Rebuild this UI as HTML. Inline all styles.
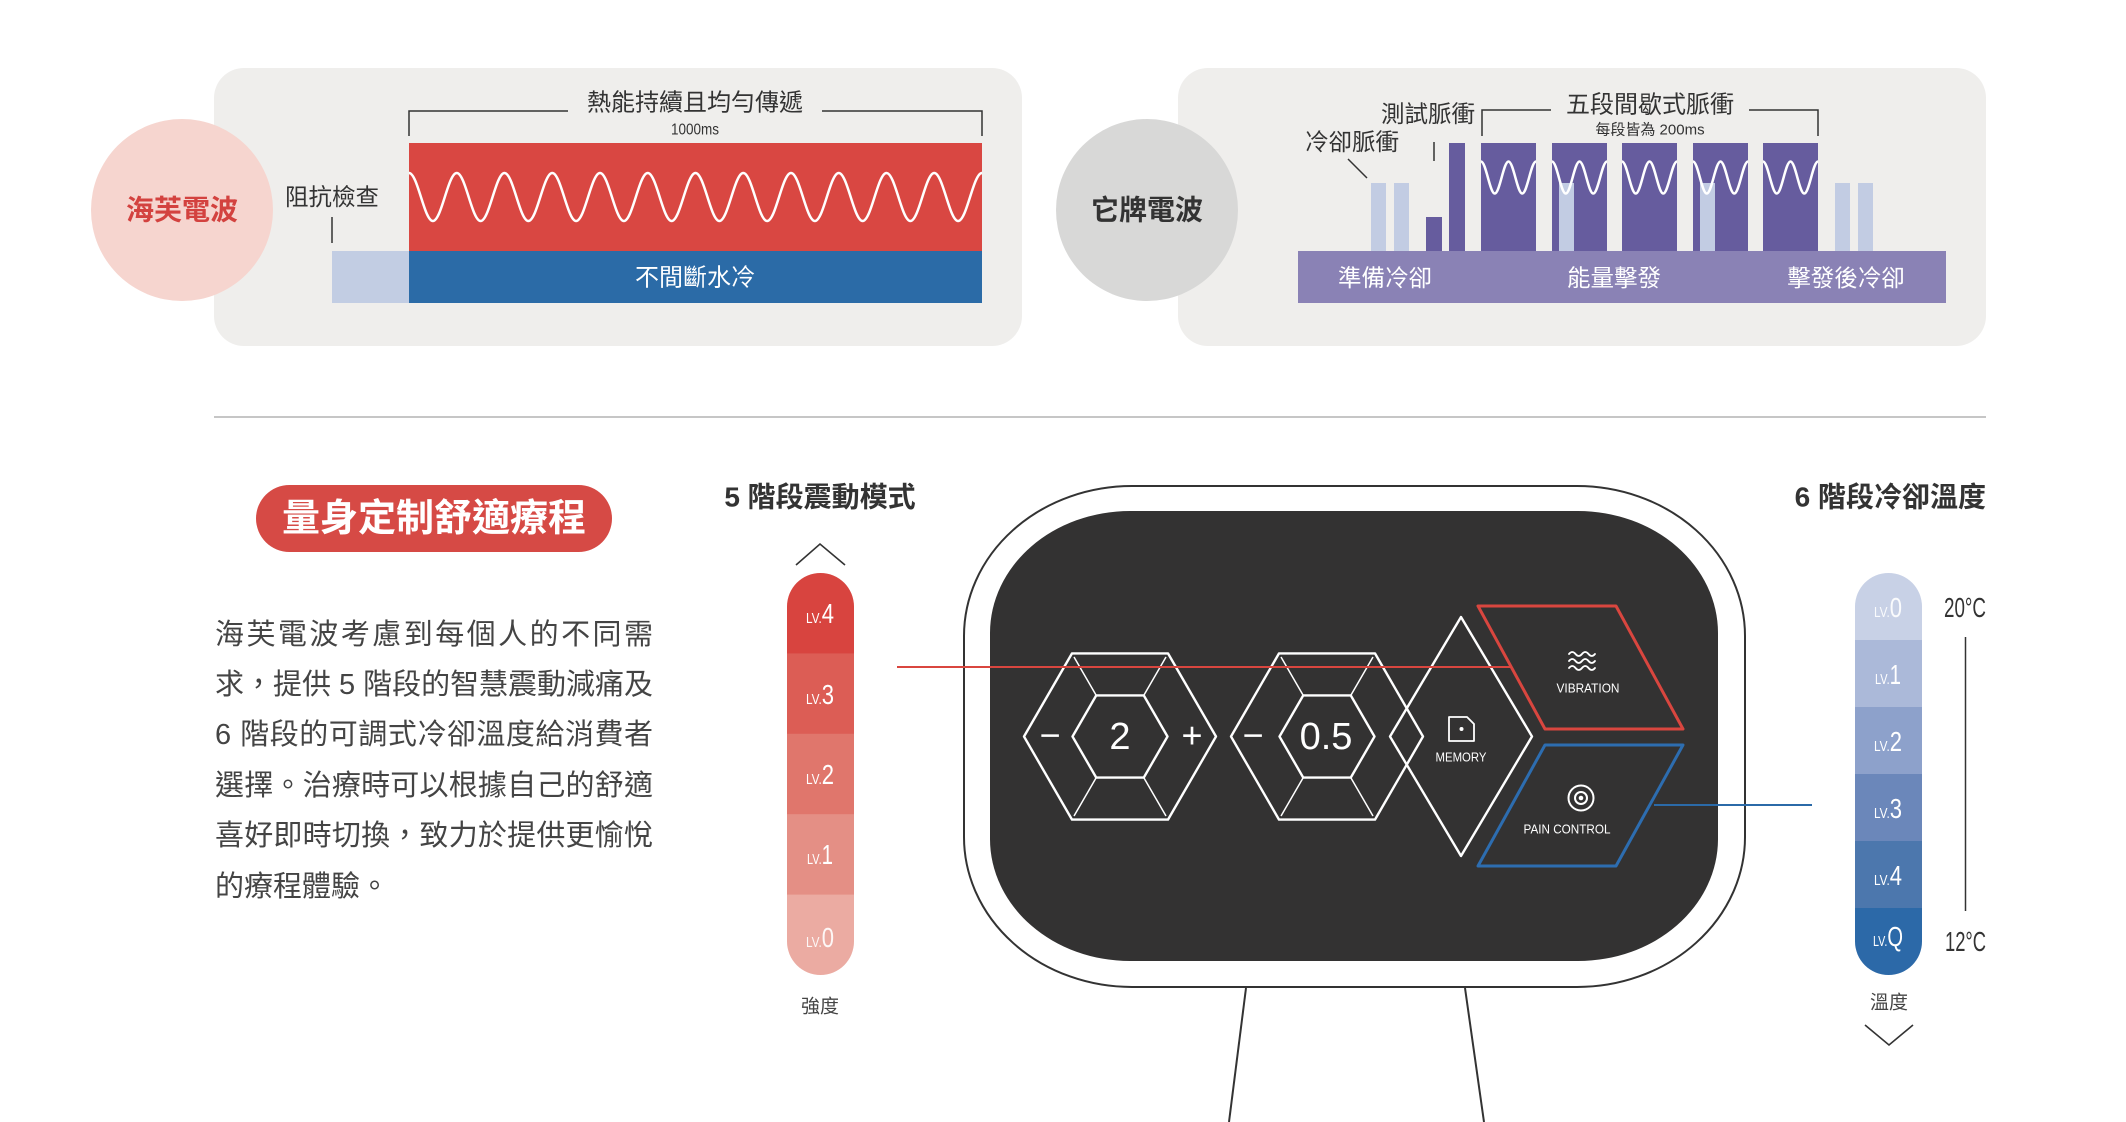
<!DOCTYPE html>
<html>
<head>
<meta charset="utf-8">
<style>
html,body{margin:0;padding:0;background:#fff;}
svg{display:block;}
text{font-family:"Liberation Sans","Noto Sans CJK TC",sans-serif;}
</style>
</head>
<body>
<svg width="2126" height="1122" viewBox="0 0 2126 1122" xmlns="http://www.w3.org/2000/svg">
<rect x="0" y="0" width="2126" height="1122" fill="#ffffff"/>

<!-- ============ TOP LEFT PANEL ============ -->
<rect x="214" y="68" width="808" height="278" rx="30" fill="#efeeec"/>
<circle cx="182" cy="210" r="91" fill="#f6d5cf"/>
<text x="182" y="210" font-size="28" font-weight="700" fill="#d3423f" text-anchor="middle" dominant-baseline="central">海芙電波</text>

<rect x="409" y="143" width="573" height="108" fill="#d94742"/>
<rect x="409" y="251" width="573" height="52" fill="#2b6ba7"/>
<rect x="332" y="251" width="77" height="52" fill="#c2cde3"/>
<path d="M409,173 c8.68,0 15.2,48 23.875,48 s15.2,-48 23.875,-48 s15.2,48 23.875,48 s15.2,-48 23.875,-48 s15.2,48 23.875,48 s15.2,-48 23.875,-48 s15.2,48 23.875,48 s15.2,-48 23.875,-48 s15.2,48 23.875,48 s15.2,-48 23.875,-48 s15.2,48 23.875,48 s15.2,-48 23.875,-48 s15.2,48 23.875,48 s15.2,-48 23.875,-48 s15.2,48 23.875,48 s15.2,-48 23.875,-48 s15.2,48 23.875,48 s15.2,-48 23.875,-48 s15.2,48 23.875,48 s15.2,-48 23.875,-48 s15.2,48 23.875,48 s15.2,-48 23.875,-48 s15.2,48 23.875,48 s15.2,-48 23.875,-48" fill="none" stroke="#ffffff" stroke-width="2.5"/>

<path d="M409,136 V111 H568 M822,111 H982 V136" fill="none" stroke="#333" stroke-width="1.5"/>
<text x="695" y="103" font-size="24" fill="#333" text-anchor="middle" dominant-baseline="central">熱能持續且均勻傳遞</text>
<text x="695" y="130" font-size="16" fill="#333" text-anchor="middle" dominant-baseline="central" textLength="48" lengthAdjust="spacingAndGlyphs">1000ms</text>
<text x="332" y="197" font-size="23.5" fill="#333" text-anchor="middle" dominant-baseline="central">阻抗檢查</text>
<line x1="332" y1="217" x2="332" y2="243" stroke="#333" stroke-width="1.5"/>
<text x="695" y="278" font-size="24" fill="#ffffff" text-anchor="middle" dominant-baseline="central">不間斷水冷</text>

<!-- ============ TOP RIGHT PANEL ============ -->
<rect x="1178" y="68" width="808" height="278" rx="30" fill="#efeeec"/>
<circle cx="1147" cy="210" r="91" fill="#d8d8d7"/>
<text x="1147" y="210" font-size="28" font-weight="700" fill="#333" text-anchor="middle" dominant-baseline="central">它牌電波</text>

<rect x="1298" y="251" width="648" height="52" fill="#8a82b5"/>
<!-- bars -->
<rect x="1371" y="183" width="15" height="68" fill="#c2cce3"/>
<rect x="1394" y="183" width="15" height="68" fill="#c2cce3"/>
<rect x="1426" y="217" width="16" height="34" fill="#665c9e"/>
<rect x="1449" y="143" width="16" height="108" fill="#665c9e"/>
<rect x="1481" y="143" width="55" height="108" fill="#665c9e"/>
<rect x="1552" y="143" width="55" height="108" fill="#665c9e"/>
<rect x="1622" y="143" width="55" height="108" fill="#665c9e"/>
<rect x="1693" y="143" width="55" height="108" fill="#665c9e"/>
<rect x="1763" y="143" width="55" height="108" fill="#665c9e"/>
<rect x="1559" y="183" width="15" height="68" fill="#c2cce3"/>
<rect x="1700" y="183" width="15" height="68" fill="#c2cce3"/>
<rect x="1835" y="183" width="15" height="68" fill="#c2cce3"/>
<rect x="1858" y="183" width="15" height="68" fill="#c2cce3"/>
<g fill="none" stroke="#ffffff" stroke-width="2.5">
<path d="M1481,161.5 c5,0 8.75,32 13.75,32 s8.75,-32 13.75,-32 s8.75,32 13.75,32 s8.75,-32 13.75,-32"/>
<path d="M1552,161.5 c5,0 8.75,32 13.75,32 s8.75,-32 13.75,-32 s8.75,32 13.75,32 s8.75,-32 13.75,-32"/>
<path d="M1622,161.5 c5,0 8.75,32 13.75,32 s8.75,-32 13.75,-32 s8.75,32 13.75,32 s8.75,-32 13.75,-32"/>
<path d="M1693,161.5 c5,0 8.75,32 13.75,32 s8.75,-32 13.75,-32 s8.75,32 13.75,32 s8.75,-32 13.75,-32"/>
<path d="M1763,161.5 c5,0 8.75,32 13.75,32 s8.75,-32 13.75,-32 s8.75,32 13.75,32 s8.75,-32 13.75,-32"/>
</g>

<path d="M1482,136 V110 H1551 M1749,110 H1818 V136" fill="none" stroke="#333" stroke-width="1.5"/>
<text x="1650" y="105" font-size="24" fill="#333" text-anchor="middle" dominant-baseline="central">五段間歇式脈衝</text>
<text x="1650" y="130" font-size="15" fill="#333" text-anchor="middle" dominant-baseline="central">每段皆為 200ms</text>
<text x="1428" y="114" font-size="23.5" fill="#333" text-anchor="middle" dominant-baseline="central">測試脈衝</text>
<line x1="1434" y1="142" x2="1434" y2="161" stroke="#333" stroke-width="1.5"/>
<text x="1352" y="142" font-size="23.5" fill="#333" text-anchor="middle" dominant-baseline="central">冷卻脈衝</text>
<line x1="1348" y1="159" x2="1367" y2="178" stroke="#333" stroke-width="1.5"/>
<text x="1385" y="278" font-size="23.5" fill="#ffffff" text-anchor="middle" dominant-baseline="central">準備冷卻</text>
<text x="1614" y="278" font-size="23.5" fill="#ffffff" text-anchor="middle" dominant-baseline="central">能量擊發</text>
<text x="1846" y="278" font-size="23.5" fill="#ffffff" text-anchor="middle" dominant-baseline="central">擊發後冷卻</text>

<!-- divider -->
<line x1="214" y1="417" x2="1986" y2="417" stroke="#b3b3b3" stroke-width="1.5"/>

<!-- ============ BOTTOM LEFT ============ -->
<rect x="256" y="485" width="356" height="67" rx="33.5" fill="#d64a45"/>
<text x="434" y="519" font-size="38" font-weight="700" fill="#ffffff" text-anchor="middle" dominant-baseline="central">量身定制舒適療程</text>

<g font-size="29" fill="#444">
<text x="215" y="635" dominant-baseline="central" textLength="438" lengthAdjust="spacing">海芙電波考慮到每個人的不同需</text>
<text x="215" y="685" dominant-baseline="central" textLength="438" lengthAdjust="spacing">求，提供 5 階段的智慧震動減痛及</text>
<text x="215" y="735" dominant-baseline="central" textLength="438" lengthAdjust="spacing">6 階段的可調式冷卻溫度給消費者</text>
<text x="215" y="786" dominant-baseline="central" textLength="438" lengthAdjust="spacing">選擇。治療時可以根據自己的舒適</text>
<text x="215" y="836" dominant-baseline="central" textLength="438" lengthAdjust="spacing">喜好即時切換，致力於提供更愉悅</text>
<text x="215" y="887" dominant-baseline="central">的療程體驗。</text>
</g>

<!-- ============ RED SCALE ============ -->
<text x="820" y="497" font-size="28" font-weight="700" fill="#333" text-anchor="middle" dominant-baseline="central">5 階段震動模式</text>
<polyline points="796,565 820,544 845,565" fill="none" stroke="#333" stroke-width="1.6"/>
<clipPath id="cr"><rect x="787" y="573" width="67" height="402" rx="33.5"/></clipPath>
<g clip-path="url(#cr)">
<rect x="787" y="573" width="67" height="81" fill="#d8443f"/>
<rect x="787" y="653.4" width="67" height="81" fill="#dc5d55"/>
<rect x="787" y="733.8" width="67" height="81" fill="#e0766c"/>
<rect x="787" y="814.2" width="67" height="81" fill="#e48f85"/>
<rect x="787" y="894.6" width="67" height="81" fill="#ebaba2"/>
</g>
<g fill="#ffffff" text-anchor="middle">
<text x="820" y="623" textLength="28" lengthAdjust="spacingAndGlyphs"><tspan font-size="15">LV.</tspan><tspan font-size="28">4</tspan></text>
<text x="820" y="704" textLength="28" lengthAdjust="spacingAndGlyphs"><tspan font-size="15">LV.</tspan><tspan font-size="28">3</tspan></text>
<text x="820" y="784" textLength="28" lengthAdjust="spacingAndGlyphs"><tspan font-size="15">LV.</tspan><tspan font-size="28">2</tspan></text>
<text x="820" y="864" textLength="26" lengthAdjust="spacingAndGlyphs"><tspan font-size="15">LV.</tspan><tspan font-size="28">1</tspan></text>
<text x="820" y="947" textLength="28" lengthAdjust="spacingAndGlyphs" fill-opacity="0.9"><tspan font-size="15">LV.</tspan><tspan font-size="28">0</tspan></text>
</g>
<text x="820" y="1007" font-size="19" fill="#444" text-anchor="middle" dominant-baseline="central">強度</text>

<!-- ============ DEVICE ============ -->
<line x1="1246" y1="988" x2="1229" y2="1122" stroke="#333" stroke-width="2"/>
<line x1="1465" y1="988" x2="1484" y2="1122" stroke="#333" stroke-width="2"/>
<rect x="964" y="486" width="781" height="501" rx="168" ry="150" fill="#ffffff" stroke="#333" stroke-width="2"/>
<rect x="990" y="511" width="728" height="450" rx="140" ry="122" fill="#333232"/>

<g fill="none" stroke="#ffffff" stroke-linejoin="round">
<polygon points="1216,736.5 1168,653.4 1072,653.4 1024,736.5 1072,819.6 1168,819.6" stroke-width="2.4"/>
<polygon points="1167.5,736.5 1143.75,695.4 1096.25,695.4 1072.5,736.5 1096.25,777.6 1143.75,777.6" stroke-width="2.4"/>
<path d="M1074,657 L1096,695 M1166,657 L1144,695 M1074,816 L1096,778 M1166,816 L1144,778" stroke-width="1.5"/>
<polygon points="1423,736.5 1375,653.4 1279,653.4 1231,736.5 1279,819.6 1375,819.6" stroke-width="2.4"/>
<polygon points="1374.5,736.5 1350.75,695.4 1303.25,695.4 1279.5,736.5 1303.25,777.6 1350.75,777.6" stroke-width="2.4"/>
<path d="M1281,657 L1303,695 M1373,657 L1351,695 M1281,816 L1303,778 M1373,816 L1351,778" stroke-width="1.5"/>
<polygon points="1461,617 1532,736.5 1461,856 1390,736.5" stroke-width="2.4"/>
</g>
<g fill="#ffffff" text-anchor="middle" dominant-baseline="central">
<text x="1050" y="735" font-size="36">−</text>
<text x="1120" y="737" font-size="38">2</text>
<text x="1192" y="735" font-size="36">+</text>
<text x="1253" y="735" font-size="36">−</text>
<text x="1326" y="737" font-size="38">0.5</text>
</g>

<!-- MEMORY icon -->
<path d="M1449,717 H1467 L1474,724 V741 H1449 Z" fill="none" stroke="#fff" stroke-width="1.8" stroke-linejoin="round"/>
<circle cx="1461.5" cy="729" r="2" fill="#fff"/>
<text x="1461" y="757" font-size="13" fill="#fff" text-anchor="middle" dominant-baseline="central" textLength="51" lengthAdjust="spacingAndGlyphs">MEMORY</text>

<!-- VIBRATION -->
<polygon points="1478,606 1616,606 1683,729 1545,729" fill="none" stroke="#d9463f" stroke-width="3" stroke-linejoin="round"/>
<g fill="none" stroke="#fff" stroke-width="1.8" stroke-linecap="round">
<path d="M1569,654 q3.25,-4 6.5,0 t6.5,0 t6.5,0 t6.5,0"/>
<path d="M1569,661 q3.25,-4 6.5,0 t6.5,0 t6.5,0 t6.5,0"/>
<path d="M1569,668 q3.25,-4 6.5,0 t6.5,0 t6.5,0 t6.5,0"/>
</g>
<text x="1588" y="688" font-size="13" fill="#fff" text-anchor="middle" dominant-baseline="central" textLength="63" lengthAdjust="spacingAndGlyphs">VIBRATION</text>

<!-- PAIN CONTROL -->
<polygon points="1545,745 1683,745 1616,866 1478,866" fill="none" stroke="#2d6db0" stroke-width="3" stroke-linejoin="round"/>
<circle cx="1581" cy="798" r="12.5" fill="none" stroke="#fff" stroke-width="2"/>
<circle cx="1581" cy="798" r="6" fill="none" stroke="#fff" stroke-width="2"/>
<circle cx="1581" cy="798" r="2.3" fill="#fff"/>
<text x="1567" y="829" font-size="13" fill="#fff" text-anchor="middle" dominant-baseline="central" textLength="87" lengthAdjust="spacingAndGlyphs">PAIN CONTROL</text>

<!-- connectors -->
<line x1="897" y1="667" x2="1511" y2="667" stroke="#d9463f" stroke-width="2"/>
<line x1="1654" y1="805" x2="1812" y2="805" stroke="#2b6aa8" stroke-width="2"/>

<!-- ============ BLUE SCALE ============ -->
<text x="1986" y="497" font-size="28" font-weight="700" fill="#333" text-anchor="end" dominant-baseline="central">6 階段冷卻溫度</text>
<clipPath id="cb"><rect x="1855" y="573" width="67" height="402" rx="33.5"/></clipPath>
<g clip-path="url(#cb)">
<rect x="1855" y="573" width="67" height="68" fill="#c8d1e6"/>
<rect x="1855" y="640" width="67" height="68" fill="#abb9d9"/>
<rect x="1855" y="707" width="67" height="68" fill="#8da1cb"/>
<rect x="1855" y="774" width="67" height="68" fill="#6b87ba"/>
<rect x="1855" y="841" width="67" height="68" fill="#4c77ad"/>
<rect x="1855" y="908" width="67" height="68" fill="#2c69a8"/>
</g>
<g fill="#ffffff" text-anchor="middle">
<text x="1888" y="617" textLength="28" lengthAdjust="spacingAndGlyphs" fill-opacity="0.9"><tspan font-size="15">LV.</tspan><tspan font-size="28">0</tspan></text>
<text x="1888" y="684" textLength="26" lengthAdjust="spacingAndGlyphs"><tspan font-size="15">LV.</tspan><tspan font-size="28">1</tspan></text>
<text x="1888" y="751" textLength="28" lengthAdjust="spacingAndGlyphs"><tspan font-size="15">LV.</tspan><tspan font-size="28">2</tspan></text>
<text x="1888" y="818" textLength="28" lengthAdjust="spacingAndGlyphs"><tspan font-size="15">LV.</tspan><tspan font-size="28">3</tspan></text>
<text x="1888" y="885" textLength="28" lengthAdjust="spacingAndGlyphs"><tspan font-size="15">LV.</tspan><tspan font-size="28">4</tspan></text>
<text x="1888" y="946" textLength="30" lengthAdjust="spacingAndGlyphs"><tspan font-size="15">LV.</tspan><tspan font-size="28">Q</tspan></text>
</g>
<text x="1944" y="617" font-size="28" fill="#333" textLength="42" lengthAdjust="spacingAndGlyphs">20°C</text>
<text x="1945" y="951" font-size="28" fill="#333" textLength="41" lengthAdjust="spacingAndGlyphs">12°C</text>
<line x1="1965.5" y1="637" x2="1965.5" y2="911" stroke="#333" stroke-width="1.5"/>
<text x="1889" y="1003" font-size="19" fill="#444" text-anchor="middle" dominant-baseline="central">溫度</text>
<polyline points="1865,1025 1889,1045 1913,1025" fill="none" stroke="#333" stroke-width="1.6"/>
</svg>
</body>
</html>
